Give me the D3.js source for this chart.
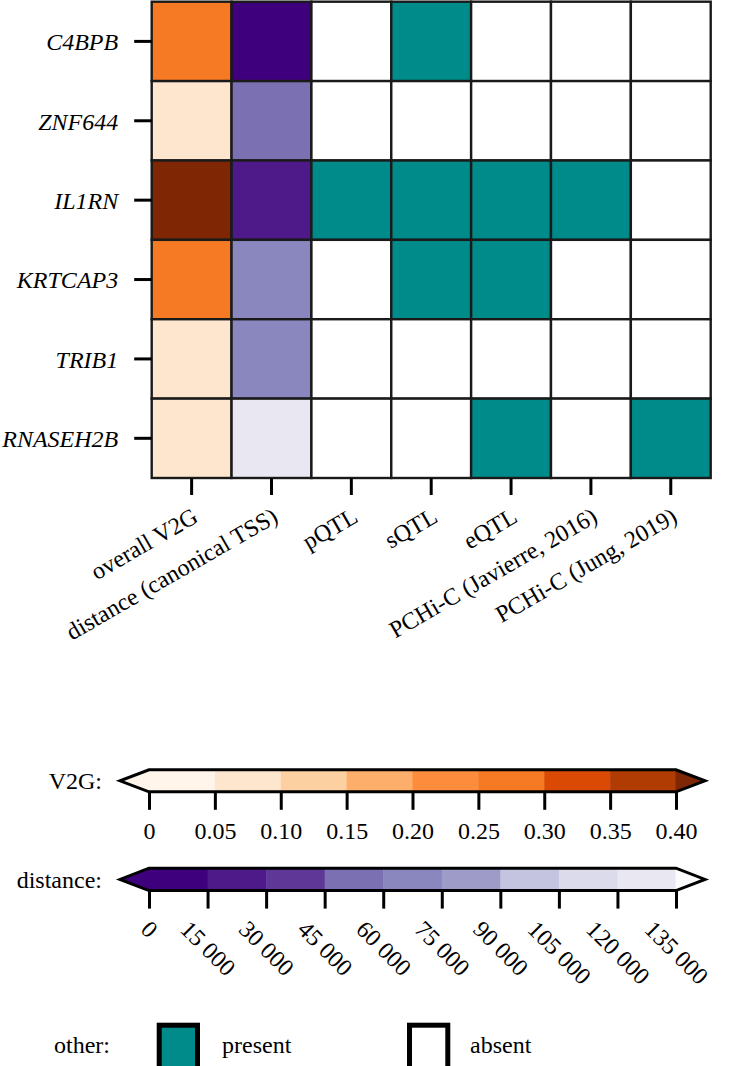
<!DOCTYPE html>
<html>
<head>
<meta charset="utf-8">
<script src="https://cdn.jsdelivr.net/npm/d3@7"></script>
<style>
  html, body { margin: 0; padding: 0; background: #fff; }
  svg { display: block; font-family: "Liberation Serif", "Times New Roman", serif; }
</style>
</head>
<body>
<svg id="chart" width="740" height="1066"></svg>
<script>
// ---------------- data ----------------
const genes = ["C4BPB", "ZNF644", "IL1RN", "KRTCAP3", "TRIB1", "RNASEH2B"];
const columns = ["overall V2G", "distance (canonical TSS)", "pQTL", "sQTL", "eQTL",
                 "PCHi-C (Javierre, 2016)", "PCHi-C (Jung, 2019)"];
const v2gScores   = [0.27, 0.07, 0.45, 0.27, 0.07, 0.07];
const tssDistance = [5000, 50000, 20000, 65000, 68000, 125000];
const pQTL          = [0, 0, 1, 0, 0, 0];
const sQTL          = [1, 0, 1, 1, 0, 0];
const eQTL          = [0, 0, 1, 1, 0, 1];
const pchicJavierre = [0, 0, 1, 0, 0, 0];
const pchicJung     = [0, 0, 0, 0, 0, 1];

const v2gTicks = [0, 0.05, 0.10, 0.15, 0.20, 0.25, 0.30, 0.35, 0.40];
const v2gTickLabels = ["0", "0.05", "0.10", "0.15", "0.20", "0.25", "0.30", "0.35", "0.40"];
const distTicks = [0, 15000, 30000, 45000, 60000, 75000, 90000, 105000, 120000, 135000];
const distTickLabels = ["0", "15 000", "30 000", "45 000", "60 000", "75 000", "90 000",
                        "105 000", "120 000", "135 000"];
const legendLabels = ["present", "absent"];

// ---------------- colours ----------------
const v2gColors = ["#fff5eb", "#fee6ce", "#fdd0a2", "#fdae6b", "#fd8d3c", "#f57a23", "#db4a04", "#b03c04"];
const v2gUnder = "#fff5eb", v2gOver = "#7f2704";
const distColors = ["#3f007d", "#4e1a8a", "#5f3797", "#7a70b2", "#8a87bf", "#9e9bc9", "#c4c4e0", "#dbdbec", "#e8e7f2"];
const distUnder = "#3f007d", distOver = "#fcfbfd";
const presentColor = "#008b8b", absentColor = "#ffffff";

const v2gColor = d3.scaleThreshold().domain(v2gTicks.slice(1)).range(v2gColors.concat([v2gOver]));
const distColor = d3.scaleThreshold().domain(distTicks.slice(1)).range(distColors.concat([distOver]));
const otherColor = d3.scaleOrdinal().domain([1, 0]).range([presentColor, absentColor]);

// ---------------- build cells ----------------
const otherSeries = [pQTL, sQTL, eQTL, pchicJavierre, pchicJung];
const cells = [];
genes.forEach((g, r) => {
  cells.push({ gene: g, col: columns[0], fill: v2gColor(v2gScores[r]) });
  cells.push({ gene: g, col: columns[1], fill: distColor(tssDistance[r]) });
  otherSeries.forEach((s, k) => cells.push({ gene: g, col: columns[2 + k], fill: otherColor(s[r]) }));
});

const svg = d3.select("#chart");
const FS = 24;
const FF = "Liberation Serif, Times New Roman, serif";

const x = d3.scaleBand().domain(columns).range([151.7, 710.7]);
const y = d3.scaleBand().domain(genes).range([1.7, 478]);

svg.append("g").selectAll("rect").data(cells).join("rect")
  .attr("x", d => x(d.col))
  .attr("y", d => y(d.gene))
  .attr("width", x.bandwidth())
  .attr("height", y.bandwidth())
  .attr("fill", d => d.fill)
  .attr("stroke", "#1a1a1a")
  .attr("stroke-width", 2.4);

// y axis
const yAxis = svg.append("g").attr("transform", "translate(151.7,0)")
  .call(d3.axisLeft(y).tickSize(17.5).tickPadding(16));
yAxis.select(".domain").remove();
yAxis.selectAll(".tick line").attr("stroke", "#000").attr("stroke-width", 3);
yAxis.selectAll(".tick text")
  .attr("font-size", FS).attr("font-style", "italic").attr("fill", "#000")
  .attr("font-family", FF)
  .attr("dy", "0.37em");

// x axis
const xAxis = svg.append("g").attr("transform", "translate(0,478)")
  .call(d3.axisBottom(x).tickSize(17));
xAxis.select(".domain").remove();
xAxis.selectAll(".tick line").attr("stroke", "#000").attr("stroke-width", 3);
xAxis.selectAll(".tick text")
  .attr("font-size", FS).attr("fill", "#000")
  .attr("font-family", FF)
  .attr("y", null).attr("dy", null)
  .attr("text-anchor", "end")
  .attr("transform", "translate(8,43) rotate(-30)");

// ---------------- colourbars ----------------
function colorbar(cfg) {
  const g = svg.append("g");
  const s = d3.scaleLinear().domain([cfg.ticks[0], cfg.ticks[cfg.ticks.length - 1]]).range([149, 676]);
  const top = cfg.top, bot = cfg.bot, mid = (top + bot) / 2;
  const x0 = s.range()[0], x1 = s.range()[1];
  const bins = d3.pairs(cfg.ticks);
  g.selectAll("rect.bin").data(bins).join("rect")
    .attr("x", d => s(d[0])).attr("y", top)
    .attr("width", d => s(d[1]) - s(d[0]) + 0.5).attr("height", bot - top)
    .attr("fill", d => cfg.color((d[0] + d[1]) / 2));
  g.append("path").attr("d", `M${x0 + 0.5},${top}L${x0 - 29},${mid}L${x0 + 0.5},${bot}Z`).attr("fill", cfg.under);
  g.append("path").attr("d", `M${x1 - 0.5},${top}L${x1 + 29},${mid}L${x1 - 0.5},${bot}Z`).attr("fill", cfg.over);
  g.append("path")
    .attr("d", `M${x0},${top}L${x1},${top}L${x1 + 29},${mid}L${x1},${bot}L${x0},${bot}L${x0 - 29},${mid}Z`)
    .attr("fill", "none").attr("stroke", "#000").attr("stroke-width", 3).attr("stroke-linejoin", "miter");
  const ax = g.append("g").attr("transform", `translate(0,${bot})`)
    .call(d3.axisBottom(s).tickValues(cfg.ticks).tickFormat((d, i) => cfg.labels[i]).tickSize(18));
  ax.select(".domain").remove();
  ax.selectAll(".tick line").attr("stroke", "#000").attr("stroke-width", 3);
  ax.selectAll(".tick text").attr("font-size", FS).attr("fill", "#000").attr("font-family", FF);
  g.append("text").attr("x", 102).attr("y", mid).attr("dy", "0.36em")
    .attr("text-anchor", "end").attr("font-size", FS).text(cfg.title);
  return ax;
}

const v2gAx = colorbar({ ticks: v2gTicks, labels: v2gTickLabels, color: v2gColor,
  under: v2gUnder, over: v2gOver, top: 769.8, bot: 791.8, title: "V2G:" });
v2gAx.selectAll(".tick text").attr("y", 47).attr("dy", null);

const distAx = colorbar({ ticks: distTicks, labels: distTickLabels, color: distColor,
  under: distUnder, over: distOver, top: 868.2, bot: 890.6, title: "distance:" });
distAx.selectAll(".tick text")
  .attr("y", null).attr("dy", null)
  .attr("text-anchor", "middle").attr("dominant-baseline", "central")
  .attr("transform", function () {
    const w = this.getComputedTextLength();
    return `translate(0,${26 + (w + 24) * 0.354}) rotate(45)`;
  });

// ---------------- legend ----------------
const lg = svg.append("g");
lg.append("text").attr("x", 54).attr("y", 1053).attr("font-size", FS).text("other:");
const legendItems = [
  { label: legendLabels[0], fill: otherColor(1), bx: 159.2, tx: 222 },
  { label: legendLabels[1], fill: otherColor(0), bx: 409.5, tx: 470 }
];
lg.selectAll("rect").data(legendItems).join("rect")
  .attr("x", d => d.bx).attr("y", 1025.2).attr("width", 38.3).attr("height", 44)
  .attr("fill", d => d.fill).attr("stroke", "#000").attr("stroke-width", 5);
lg.selectAll("text.item").data(legendItems).join("text").attr("class", "item")
  .attr("x", d => d.tx).attr("y", 1053).attr("font-size", FS).text(d => d.label);
</script>
</body>
</html>
